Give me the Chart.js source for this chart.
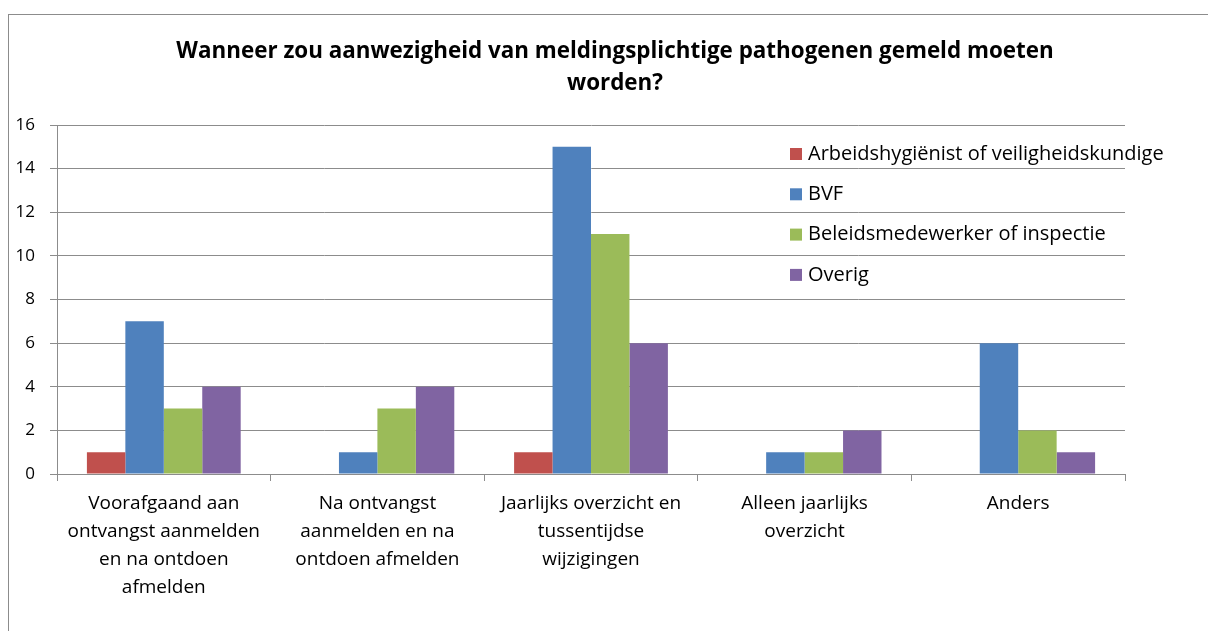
<!DOCTYPE html>
<html>
<head>
<meta charset="utf-8">
<script src="https://cdn.jsdelivr.net/npm/chart.js@4/dist/chart.umd.min.js"></script>
<style>
html,body{margin:0;padding:0;background:#fff;overflow:hidden;width:1208px;height:631px;}
#box{position:absolute;left:8px;top:14px;width:1212px;height:700px;border:1px solid #8c8c8c;background:#fff;}
canvas{display:block;}
</style>
</head>
<body>
<div id="box"><canvas id="c" width="1212" height="700"></canvas></div>
<script>
const titleLines = ["Wanneer zou aanwezigheid van meldingsplichtige pathogenen gemeld moeten", "worden?"];
const categories = [
  ["Voorafgaand aan", "ontvangst aanmelden", "en na ontdoen", "afmelden"],
  ["Na ontvangst", "aanmelden en na", "ontdoen afmelden"],
  ["Jaarlijks overzicht en", "tussentijdse", "wijzigingen"],
  ["Alleen jaarlijks", "overzicht"],
  ["Anders"]
];
const seriesNames = ["Arbeidshygiënist of veiligheidskundige", "BVF", "Beleidsmedewerker of inspectie", "Overig"];
const arbeids = [1, 0, 1, 0, 0];
const bvf = [7, 1, 15, 1, 6];
const beleids = [3, 3, 11, 1, 2];
const overig = [4, 4, 6, 2, 1];
const yTicks = [0, 2, 4, 6, 8, 10, 12, 14, 16];
const colors = ["#C0504D", "#4F81BD", "#9BBB59", "#8064A2"];

const FONT = "'Open Sans', Lato, sans-serif";
const GRID = "#8c8c8c";

const titlePlugin = {
  id: 'centerTitle',
  afterDraw(chart) {
    const ctx = chart.ctx;
    ctx.save();
    ctx.font = "bold 22.4px " + FONT;
    ctx.fillStyle = "#000";
    ctx.textAlign = "center";
    ctx.textBaseline = "middle";
    const cx = chart.width / 2;
    titleLines.forEach((t, i) => ctx.fillText(t, cx, 37 + i * 32));
    ctx.restore();
  }
};

const legendPlugin = {
  id: 'insideLegend',
  afterDraw(chart) {
    const ctx = chart.ctx;
    ctx.save();
    ctx.font = "20px " + FONT;
    ctx.textBaseline = "middle";
    ctx.textAlign = "left";
    const x0 = 781, y0 = 139, step = 40.3;
    chart.data.datasets.forEach((ds, i) => {
      const y = y0 + i * step;
      ctx.fillStyle = ds.backgroundColor;
      ctx.fillRect(x0, y - 6, 12, 12);
      ctx.fillStyle = "#000";
      ctx.fillText(ds.label, x0 + 18, y);
    });
    ctx.restore();
  }
};

const datasets = [arbeids, bvf, beleids, overig].map((d, i) => ({
  label: seriesNames[i],
  data: d,
  backgroundColor: colors[i],
  borderWidth: 0,
  categoryPercentage: 0.72,
  barPercentage: 1.0
}));

new Chart(document.getElementById('c'), {
  type: 'bar',
  data: { labels: categories, datasets },
  plugins: [titlePlugin, legendPlugin],
  options: {
    responsive: false,
    animation: false,
    devicePixelRatio: 1,
    layout: { padding: { left: 0, right: 96, top: 110, bottom: 0 } },
    plugins: {
      legend: { display: false },
      tooltip: { enabled: false },
      title: { display: false }
    },
    scales: {
      x: {
        offset: true,
        grid: { display: true, drawOnChartArea: false, drawTicks: true, tickLength: 7, color: GRID, offset: true },
        border: { color: GRID, width: 1 },
        ticks: { color: "#000", font: { family: FONT, size: 19, lineHeight: 1.47 }, padding: 9, maxRotation: 0, autoSkip: false },
        afterFit(scale) { scale.height = 700 - 459; }
      },
      y: {
        min: 0, max: 16,
        afterBuildTicks(scale) { scale.ticks = yTicks.map(v => ({ value: v })); },
        grid: { color: GRID, tickLength: 7, lineWidth: 1 },
        border: { color: GRID, width: 1 },
        ticks: { color: "#000", font: { family: FONT, size: 17 }, padding: 15 },
        afterFit(scale) { scale.width = 48; }
      }
    }
  }
});
</script>
</body>
</html>
